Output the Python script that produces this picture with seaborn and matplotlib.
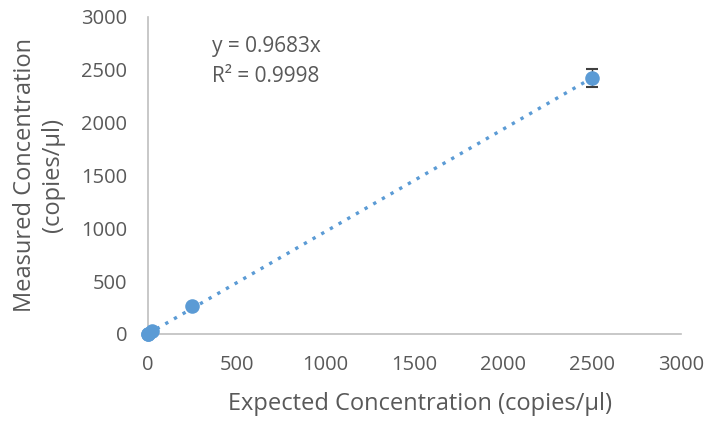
import numpy as np
import pandas as pd
import seaborn as sns
import matplotlib.pyplot as plt

expected = [0.25, 2.5, 25, 250, 2500]
measured = [0.3, 2.4, 24, 262, 2420]
errors = [0.1, 0.5, 3, 10, 85]
slope = 0.9683
r2 = 0.9998

df = pd.DataFrame({"Expected": expected, "Measured": measured, "err": errors})

sns.set_style("white")
plt.rcParams['font.family'] = ['Open Sans', 'DejaVu Sans']
grey = "#595959"
blue = "#5B9BD5"

fig = plt.figure(figsize=(7.15, 4.21), dpi=100)
ax = fig.add_axes([0.207, 0.207, 0.745, 0.753])

# trendline through origin
xs = np.array([0, max(expected)])
ax.plot(xs, slope * xs, linestyle=(0, (1, 2.0)), color=blue, linewidth=2.4, zorder=1)

ax.errorbar(df["Expected"], df["Measured"], yerr=df["err"], fmt="none",
            ecolor="#404040", elinewidth=1, capsize=4.5, capthick=1.5, zorder=2)
sns.scatterplot(data=df, x="Expected", y="Measured", color=blue, s=110,
                edgecolor=blue, linewidth=0, ax=ax, zorder=3, clip_on=False)

ax.text(360, 2720, f"y = {slope}x", fontsize=15, color=grey, va="center")
ax.text(360, 2440, f"R² = {r2}", fontsize=15, color=grey, va="center")

ax.set_xlim(0, 3000)
ax.set_ylim(0, 3000)
ax.set_xticks(range(0, 3001, 500))
ax.set_yticks(range(0, 3001, 500))
ax.tick_params(colors=grey, labelsize=14.5, length=0)
ax.tick_params(axis="y", pad=15)
ax.tick_params(axis="x", pad=15)
ax.set_xlabel("Expected Concentration (copies/μl)", fontsize=17, color=grey, va="center")
ax.xaxis.set_label_coords(0.51, -0.22)
ax.set_ylabel("Measured Concentration\n(copies/μl)", fontsize=17, color=grey,
              va="center", linespacing=1.25)
ax.yaxis.set_label_coords(-0.205, 0.5)

for s in ["top", "right"]:
    ax.spines[s].set_visible(False)
for s in ["left", "bottom"]:
    ax.spines[s].set_color("#BFBFBF")
    ax.spines[s].set_linewidth(1.2)

fig.savefig("out.png", dpi=100)
